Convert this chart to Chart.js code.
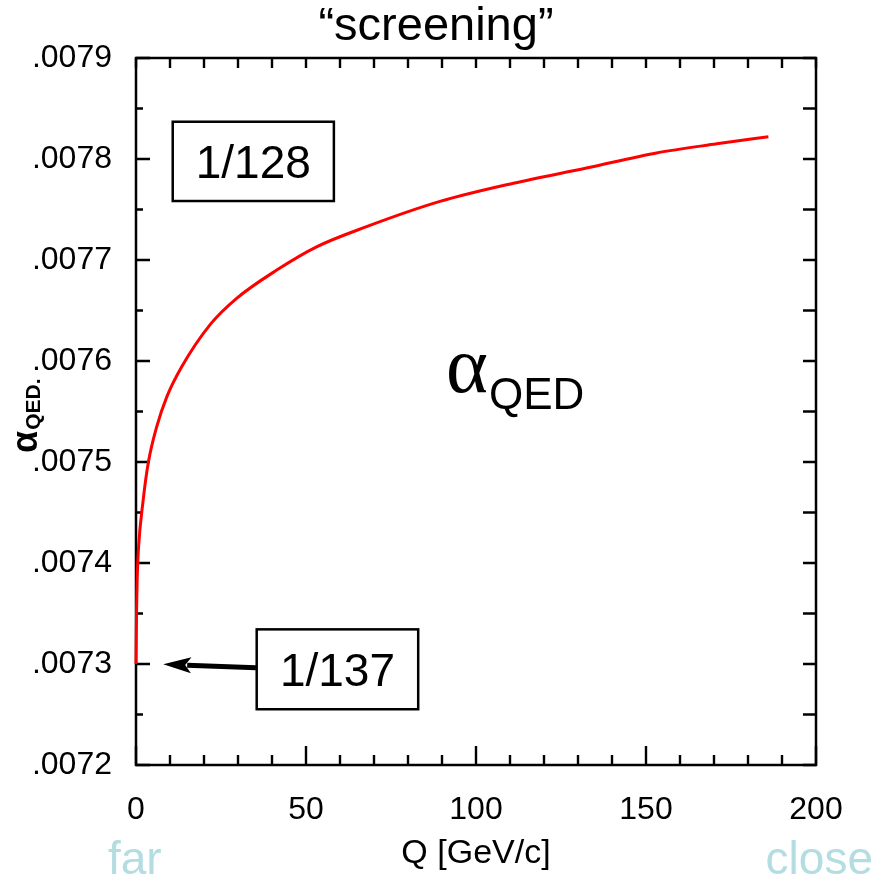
<!DOCTYPE html>
<html><head><meta charset="utf-8">
<style>html,body{margin:0;padding:0;background:#fff}canvas{display:block}</style>
<script src="https://cdn.jsdelivr.net/npm/chart.js@4.4.1/dist/chart.umd.min.js"></script>
</head><body>
<canvas id="c" width="876" height="878"></canvas>
<script>
// ---- data ----
const qValues = [0, 0.15, 0.35, 0.7, 2.1, 3.6, 6.1, 9.0, 13.4, 21.8, 29.6, 41.4, 53.1, 67.8, 89.4, 111, 132.5, 153.1, 170.8, 186];
const alphaValues = [0.00730, 0.007350, 0.007385, 0.007413, 0.007462, 0.007499, 0.007535, 0.007564, 0.007594, 0.007636, 0.007662, 0.007690, 0.007713, 0.007733, 0.007758, 0.007776, 0.007791, 0.007806, 0.007815, 0.007822];
const xTickValues = [0, 50, 100, 150, 200];
const yTickValues = [0.0072, 0.0073, 0.0074, 0.0075, 0.0076, 0.0077, 0.0078, 0.0079];
const xMinorStep = 10;
const yMinorStep = 0.00005;
const titleText = '\u201Cscreening\u201D';
const xAxisTitle = 'Q [GeV/c]';
const yAxisTitleMain = '\u03B1';
const yAxisTitleSub = 'QED';
const farLabel = 'far';
const closeLabel = 'close';
// annotation boxes in data units: [qLeft, qRight, alphaTop, alphaBottom, text]
const box128 = [10.8, 58.2, 0.0078369, 0.0077584, '1/128'];
const box137 = [35.5, 83.0, 0.0073343, 0.0072552, '1/137'];
// arrow from box to 1/137 level: [qStart, alphaStart, qTip, alphaTip]
const arrow137 = [35.3, 0.0072963, 8.0, 0.0072997];
// big label position (data units): [q, alpha baseline]
const bigLabelPos = [91.8, 0.0075693];

const SANS = '"Liberation Sans", Arial, sans-serif';

const deco = {
  id: 'deco',
  beforeDatasetsDraw(chart) {
    const ctx = chart.ctx, a = chart.chartArea;
    const xs = chart.scales.x, ys = chart.scales.y;
    ctx.save();
    ctx.strokeStyle = '#000';
    ctx.lineWidth = 2.5;
    ctx.strokeRect(a.left, a.top, a.right - a.left, a.bottom - a.top);
    ctx.lineWidth = 2.4;
    ctx.beginPath();
    for (let q = xs.min; q <= xs.max + 1e-9; q += xMinorStep) {
      const px = xs.getPixelForValue(q);
      const major = Math.abs(q % 50) < 1e-6;
      ctx.moveTo(px, a.bottom); ctx.lineTo(px, a.bottom - (major ? 19 : 10));
      ctx.moveTo(px, a.top); ctx.lineTo(px, a.top + 10);
    }
    const nY = Math.round((ys.max - ys.min) / yMinorStep);
    for (let i = 0; i <= nY; i++) {
      const v = ys.min + i * yMinorStep;
      const py = ys.getPixelForValue(v);
      const major = i % 2 === 0;
      ctx.moveTo(a.left, py); ctx.lineTo(a.left + (major ? 14 : 7), py);
      ctx.moveTo(a.right, py); ctx.lineTo(a.right - 13, py);
    }
    ctx.stroke();
    ctx.restore();
  },
  afterDraw(chart) {
    const ctx = chart.ctx;
    const xs = chart.scales.x, ys = chart.scales.y;
    ctx.save();
    ctx.fillStyle = '#000';
    // title
    ctx.font = '47px ' + SANS;
    ctx.textAlign = 'center';
    ctx.textBaseline = 'alphabetic';
    ctx.fillText(titleText, 436, 40);
    // boxes
    [box128, box137].forEach(b => {
      const x0 = xs.getPixelForValue(b[0]), x1 = xs.getPixelForValue(b[1]);
      const y0 = ys.getPixelForValue(b[2]), y1 = ys.getPixelForValue(b[3]);
      ctx.lineWidth = 2.5;
      ctx.strokeStyle = '#000';
      ctx.strokeRect(x0, y0, x1 - x0, y1 - y0);
      ctx.font = '46px ' + SANS;
      ctx.textAlign = 'center';
      ctx.textBaseline = 'alphabetic';
      ctx.fillText(b[4], (x0 + x1) / 2, (y0 + y1) / 2 + 17);
    });
    // arrow
    const sx = xs.getPixelForValue(arrow137[0]), sy = ys.getPixelForValue(arrow137[1]);
    const tx = xs.getPixelForValue(arrow137[2]), ty = ys.getPixelForValue(arrow137[3]);
    const ang = Math.atan2(ty - sy, tx - sx);
    const headLen = 28, headW = 8;
    const bx = tx - Math.cos(ang) * headLen, by = ty - Math.sin(ang) * headLen;
    ctx.lineWidth = 5;
    ctx.beginPath(); ctx.moveTo(sx, sy); ctx.lineTo(bx + Math.cos(ang) * 4, by + Math.sin(ang) * 4); ctx.stroke();
    ctx.beginPath();
    ctx.moveTo(tx, ty);
    ctx.lineTo(bx - Math.sin(ang) * headW, by + Math.cos(ang) * headW);
    ctx.lineTo(bx + Math.cos(ang) * 6, by + Math.sin(ang) * 6);
    ctx.lineTo(bx + Math.sin(ang) * headW, by - Math.cos(ang) * headW);
    ctx.closePath(); ctx.fill();
    // big alpha_QED
    const lx = xs.getPixelForValue(bigLabelPos[0]), ly = ys.getPixelForValue(bigLabelPos[1]);
    ctx.textAlign = 'left';
    ctx.font = '80px "Liberation Serif", "Times New Roman", serif';
    ctx.fillText('\u03B1', lx - 2, ly);
    const aw = ctx.measureText('\u03B1').width;
    ctx.font = '44px ' + SANS;
    ctx.fillText('QED', lx - 2 + aw + 1, ly + 17);
    // y axis title (rotated)
    ctx.save();
    ctx.translate(37, 453);
    ctx.rotate(-Math.PI / 2);
    ctx.font = 'bold 36px ' + SANS;
    ctx.fillText(yAxisTitleMain, 0, 0);
    const w2 = ctx.measureText(yAxisTitleMain).width;
    ctx.font = 'bold 21px ' + SANS;
    ctx.fillText(yAxisTitleSub + '.', w2 + 1, 3);
    ctx.restore();
    // far / close
    ctx.fillStyle = '#b4dde2';
    ctx.font = '46px ' + SANS;
    ctx.textAlign = 'left';
    ctx.fillText(farLabel, 108, 874);
    ctx.textAlign = 'right';
    ctx.fillText(closeLabel, 873, 874);
    ctx.restore();
  }
};

new Chart(document.getElementById('c'), {
  type: 'line',
  data: {
    datasets: [{
      data: qValues.map((q, i) => ({ x: q, y: alphaValues[i] })),
      borderColor: '#ff0000',
      borderWidth: 3,
      pointRadius: 0,
      fill: false,
      cubicInterpolationMode: 'monotone',
      clip: 4
    }]
  },
  options: {
    responsive: false,
    animation: false,
    events: [],
    layout: { padding: { top: 58, right: 60, left: 0, bottom: 0 } },
    plugins: { legend: { display: false }, tooltip: { enabled: false }, title: { display: false } },
    scales: {
      x: {
        type: 'linear', min: 0, max: 200,
        afterBuildTicks: s => { s.ticks = xTickValues.map(v => ({ value: v })); },
        afterFit: s => { s.height = 113; },
        grid: { display: false, drawTicks: false },
        border: { display: false },
        ticks: { padding: 26, color: '#000', font: { family: SANS, size: 32 }, maxRotation: 0, autoSkip: false },
        title: { display: true, text: xAxisTitle, color: '#000', font: { family: SANS, size: 34 }, padding: { top: 0, bottom: 4 } }
      },
      y: {
        type: 'linear', min: 0.0072, max: 0.0079,
        afterBuildTicks: s => { s.ticks = yTickValues.map(v => ({ value: v })); },
        afterFit: s => { s.width = 136; },
        grid: { display: false, drawTicks: false },
        border: { display: false },
        ticks: {
          padding: 24, color: '#000', font: { family: SANS, size: 32 }, autoSkip: false,
          callback: v => '.' + String(Math.round(v * 10000)).padStart(4, '0')
        }
      }
    }
  },
  plugins: [deco]
});
</script>
</body></html>
